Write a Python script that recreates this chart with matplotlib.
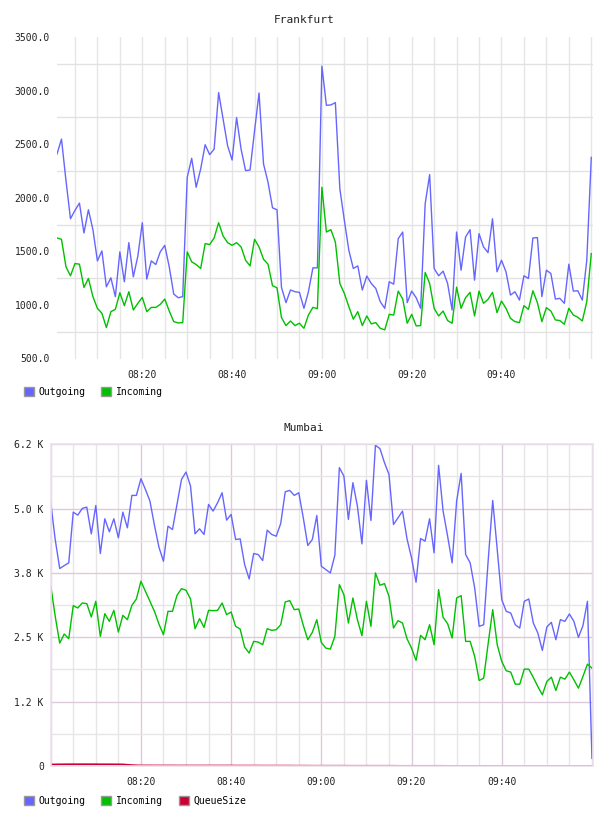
import numpy as np
import matplotlib
matplotlib.use("Agg")
import matplotlib.pyplot as plt
from matplotlib.patches import Patch

# minutes after 08:00
frankfurt_minutes = np.arange(1, 121)
mumbai_minutes = np.arange(0, 121)

frankfurt_out = [
    2408, 2547, 2160, 1804, 1882, 1950, 1671, 1888, 1702, 1411,
    1504, 1169, 1253, 1077, 1495, 1216, 1581, 1262, 1454, 1767,
    1241, 1411, 1377, 1495, 1556, 1355, 1101, 1067, 1077, 2191,
    2368, 2098, 2269, 2495, 2402, 2454, 2981, 2733, 2485, 2352,
    2748, 2454, 2253, 2259, 2625, 2978, 2315, 2145, 1906, 1888,
    1163, 1021, 1139, 1123, 1117, 968, 1123, 1346, 1346, 3228,
    2863, 2866, 2888, 2083, 1789, 1510, 1340, 1364, 1139, 1269,
    1200, 1154, 1030, 968, 1216, 1194, 1618, 1680, 1021, 1129,
    1067, 968, 1943, 2216, 1340, 1272, 1315, 1200, 953, 1680,
    1324, 1634, 1702, 1231, 1665, 1541, 1488, 1804, 1309, 1417,
    1309, 1092, 1123, 1045, 1272, 1247, 1625, 1628, 1077, 1324,
    1293, 1055, 1061, 1015, 1380, 1129, 1132, 1045, 1417, 2377,
]
frankfurt_in = [
    1625, 1612, 1355, 1272, 1386, 1380, 1163, 1247, 1077, 968,
    922, 789, 937, 959, 1114, 993, 1123, 953, 1015, 1070,
    937, 977, 977, 1005, 1055, 943, 844, 832, 835, 1495,
    1402, 1377, 1340, 1572, 1563, 1625, 1767, 1643, 1581, 1556,
    1581, 1541, 1417, 1364, 1612, 1541, 1426, 1380, 1179, 1160,
    882, 807, 850, 807, 829, 782, 906, 977, 965, 2098,
    1680, 1702, 1587, 1200, 1107, 984, 867, 937, 807, 897,
    823, 835, 782, 767, 912, 906, 1129, 1055, 829, 912,
    804, 807, 1303, 1200, 968, 897, 943, 854, 829, 1166,
    968, 1067, 1117, 897, 1129, 1015, 1052, 1117, 928, 1036,
    968, 875, 844, 835, 993, 959, 1132, 1021, 844, 974,
    943, 860, 854, 820, 968, 906, 885, 850, 1030, 1479,
]

mumbai_out = [
    5127, 4400, 3836, 3894, 3946, 4932, 4874, 5004, 5030, 4511,
    5062, 4128, 4803, 4550, 4803, 4433, 4932, 4627, 5257, 5257,
    5581, 5374, 5147, 4679, 4251, 3978, 4660, 4595, 5082, 5568,
    5711, 5439, 4511, 4608, 4498, 5082, 4952, 5114, 5309, 4777,
    4887, 4400, 4413, 3913, 3634, 4128, 4108, 3991, 4582, 4498,
    4465, 4712, 5328, 5354, 5257, 5309, 4822, 4283, 4400, 4867,
    3881, 3816, 3751, 4095, 5796, 5633, 4790, 5504, 5049, 4316,
    5549, 4770, 6230, 6166, 5893, 5666, 4692, 4822, 4952, 4413,
    4043, 3570, 4420, 4368, 4803, 4141, 5841, 4952, 4465, 3946,
    5147, 5685, 4108, 3946, 3459, 2713, 2745, 4000, 5159, 4206,
    3232, 3005, 2972, 2745, 2680, 3200, 3245, 2778, 2583, 2246,
    2700, 2791, 2453, 2843, 2810, 2953, 2810, 2499, 2726, 3200,
    149,
]
mumbai_in = [
    3505, 2908, 2388, 2564, 2473, 3115, 3070, 3167, 3154, 2895,
    3200, 2518, 2959, 2810, 3024, 2602, 2927, 2843, 3122, 3245,
    3589, 3394, 3200, 3005, 2758, 2551, 3005, 3005, 3316, 3446,
    3414, 3245, 2667, 2862, 2693, 3024, 3018, 3024, 3167, 2940,
    2992, 2713, 2661, 2310, 2194, 2421, 2408, 2356, 2667, 2635,
    2648, 2745, 3187, 3213, 3037, 3050, 2732, 2453, 2596, 2843,
    2400, 2291, 2271, 2518, 3524, 3329, 2778, 3264, 2843, 2531,
    3200, 2713, 3751, 3511, 3544, 3297, 2680, 2823, 2778, 2473,
    2291, 2051, 2538, 2453, 2745, 2356, 3427, 2888, 2765, 2486,
    3264, 3310, 2421, 2421, 2129, 1661, 1707, 2388, 3037, 2356,
    2031, 1850, 1824, 1590, 1590, 1882, 1882, 1720, 1545, 1382,
    1642, 1726, 1467, 1726, 1687, 1824, 1674, 1512, 1739, 1979,
    1902,
]
mumbai_queue = [
    30, 32, 33, 34, 35, 35, 35, 35, 35, 35,
    35, 34, 34, 34, 33, 33, 32, 25, 18, 14,
    12, 12, 12, 11, 11, 11, 11, 11, 10, 10,
    10, 10, 10, 10, 10, 10, 10, 10, 10, 10,
    10, 9, 9, 9, 9, 9, 9, 8, 8, 8,
    8, 8, 8, 8, 7, 7, 7, 7, 6, 6,
    6, 6, 6, 6, 6, 6, 5, 5, 5, 5,
    5, 5, 5, 5, 5, 5, 5, 4, 4, 4,
    4, 4, 4, 4, 4, 4, 4, 4, 3, 3,
    3, 3, 3, 3, 3, 3, 3, 3, 3, 3,
    3, 3, 2, 2, 2, 2, 2, 2, 2, 2,
    2, 2, 2, 2, 2, 2, 2, 2, 2, 2,
    2,
]

time_ticks = [20, 40, 60, 80, 100]
time_labels = ["08:20", "08:40", "09:00", "09:20", "09:40"]
frankfurt_yticks = [500, 1000, 1500, 2000, 2500, 3000, 3500]
mumbai_yticks = [0, 1250, 2500, 3750, 5000, 6250]
mumbai_ylabels = ["0", "1.2 K", "2.5 K", "3.8 K", "5.0 K", "6.2 K"]

c_out = "#6666ff"
c_in = "#00c000"
c_queue = "#cc0033"
mono = "DejaVu Sans Mono"

W, H = 608, 816
fig = plt.figure(figsize=(W / 100, H / 100), dpi=100)

# ---- Frankfurt ----
ax1 = fig.add_axes([57 / W, 1 - 358.5 / H, (593.3 - 57) / W, (358.5 - 37) / H])
ax1.plot(frankfurt_minutes, frankfurt_out, color=c_out, lw=1.0)
ax1.plot(frankfurt_minutes, frankfurt_in, color=c_in, lw=1.0)
ax1.set_xlim(1, 120.45)
ax1.set_ylim(500, 3500)
ax1.set_xticks(time_ticks, time_labels)
ax1.set_xticks([m for m in range(5, 121, 5) if m not in time_ticks], minor=True)
ax1.set_yticks(frankfurt_yticks, [f"{v:.1f}" for v in frankfurt_yticks])
ax1.set_yticks([v + 250 for v in frankfurt_yticks[:-1]], minor=True)
ax1.grid(True, axis="x", which="both", color="#e6e6e6", lw=1.0)
ax1.grid(True, axis="y", which="minor", color="#e2e2e2", lw=1.0)
for s in ax1.spines.values():
    s.set_visible(False)
ax1.set_axisbelow(True)

# ---- Mumbai ----
ax2 = fig.add_axes([50.7 / W, 1 - 766 / H, (593.3 - 50.7) / W, (766 - 444.3) / H])
ax2.plot(mumbai_minutes, mumbai_out, color=c_out, lw=1.0)
ax2.plot(mumbai_minutes, mumbai_in, color=c_in, lw=1.0)
ax2.plot(mumbai_minutes, mumbai_queue, color=c_queue, lw=1.2)
ax2.set_xlim(0, 120.3)
ax2.set_ylim(0, 6250)
ax2.set_xticks([0] + time_ticks + [120], [""] + time_labels + [""])
ax2.set_xticks([m for m in range(5, 121, 5) if m % 20], minor=True)
ax2.set_yticks(mumbai_yticks, mumbai_ylabels)
ax2.set_yticks([v + 625 for v in mumbai_yticks[:-1]], minor=True)
ax2.grid(True, which="major", color="#dccadc", lw=1.0)
ax2.grid(True, which="minor", color="#e6e6e6", lw=1.0)
for s in ax2.spines.values():
    s.set_color("#ece0ec")
    s.set_linewidth(1.2)
ax2.set_axisbelow(True)

for ax in (ax1, ax2):
    ax.tick_params(which="both", length=0, labelsize=7, colors="#222222")
    ax.tick_params(axis="x", pad=8)
    ax.tick_params(axis="y", pad=5)
    for lab in ax.get_xticklabels() + ax.get_yticklabels():
        lab.set_fontfamily(mono)

fig.text(304 / W, 1 - 20 / H, "Frankfurt", ha="center", va="center",
         fontsize=8, family=mono, color="#222222")
fig.text(304 / W, 1 - 428 / H, "Mumbai", ha="center", va="center",
         fontsize=8, family=mono, color="#222222")

def legend_at(labels, colors, y):
    handles = [Patch(facecolor=c, edgecolor="#999999", lw=1.0) for c in colors]
    fig.legend(handles, labels, loc="center left", bbox_to_anchor=(23.5 / W, 1 - y / H),
               ncol=len(labels), frameon=False, borderpad=0, borderaxespad=0,
               handlelength=1.05, handleheight=1.05, handletextpad=0.5,
               columnspacing=1.6, prop={"family": mono, "size": 7})

legend_at(["Outgoing", "Incoming"], [c_out, c_in], 392)
legend_at(["Outgoing", "Incoming", "QueueSize"], [c_out, c_in, c_queue], 800.5)

fig.savefig("out.png", dpi=100)
